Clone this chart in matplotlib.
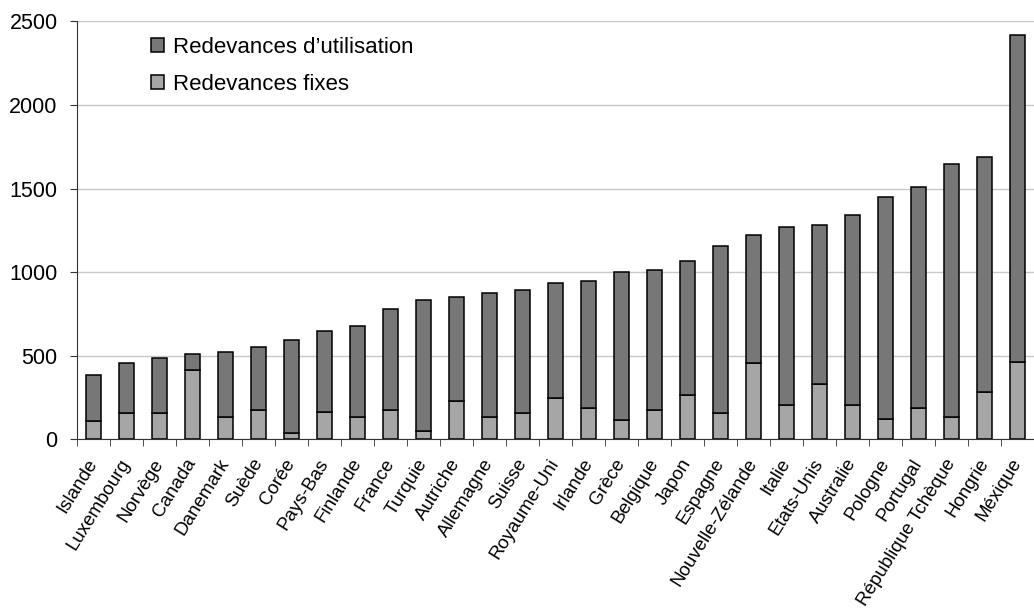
import numpy as np
import matplotlib.pyplot as plt
from matplotlib.ticker import MultipleLocator

plt.rcParams['font.family'] = ['Liberation Sans', 'DejaVu Sans']

countries = ["Islande", "Luxembourg", "Norvège", "Canada", "Danemark", "Suède",
             "Corée", "Pays-Bas", "Finlande", "France", "Turquie", "Autriche",
             "Allemagne", "Suisse", "Royaume-Uni", "Irlande", "Grèce", "Belgique",
             "Japon", "Espagne", "Nouvelle-Zélande", "Italie", "Etats-Unis",
             "Australie", "Pologne", "Portugal", "République Tchèque", "Hongrie",
             "Méxique"]

# redevances fixes (bottom segment)
fixed = [111, 155, 155, 413, 133, 175, 40, 165, 133, 175, 50, 227, 133, 155,
         248, 187, 113, 177, 267, 155, 456, 207, 333, 207, 123, 185, 135, 281, 464]
# redevances d'utilisation (top segment)
usage = [273, 303, 333, 95, 387, 377, 556, 481, 543, 605, 782, 627, 743, 741,
         690, 761, 887, 835, 797, 1003, 764, 1063, 949, 1137, 1325, 1325, 1513,
         1407, 1956]

x = np.arange(len(countries))

fig = plt.figure(figsize=(10.34, 6.13), dpi=100)
ax = fig.add_axes([0.0745, 0.2834, 0.9255, 0.6816])

ax.bar(x, fixed, width=0.47, color='#a6a6a6', edgecolor='black',
       linewidth=1.1, label='Redevances fixes', zorder=3)
ax.bar(x, usage, width=0.47, bottom=fixed, color='#777777', edgecolor='black',
       linewidth=1.1, label='Redevances d\u2019utilisation', zorder=3)

ax.set_xlim(-0.5, 28.16)
ax.set_ylim(0, 2500)
ax.yaxis.set_major_locator(MultipleLocator(500))
ax.grid(axis='y', color='#c8c8c8', linewidth=1.0, zorder=0)

for side in ['top', 'right']:
    ax.spines[side].set_visible(False)
ax.spines['left'].set_color('#333333')
ax.spines['bottom'].set_color('#333333')

ax.set_xticks(x)
ax.set_xticklabels(countries, rotation=58, ha='right', va='center',
                   rotation_mode='anchor', fontsize=13.5)
ax.set_xticks(np.arange(-0.5, len(countries), 1), minor=True)
ax.tick_params(axis='x', which='major', length=0, pad=15)
ax.tick_params(axis='x', which='minor', length=5, color='#333333', direction='out')
ax.tick_params(axis='y', length=5, color='#333333', labelsize=15.5, pad=9)

handles, labels = ax.get_legend_handles_labels()
ax.legend(handles[::-1], labels[::-1], loc='upper left',
          bbox_to_anchor=(0.056, 1.01), frameon=False, fontsize=16,
          handlelength=0.6, handleheight=0.6, handletextpad=0.4,
          labelspacing=0.72)

fig.savefig('out.png', dpi=100)
